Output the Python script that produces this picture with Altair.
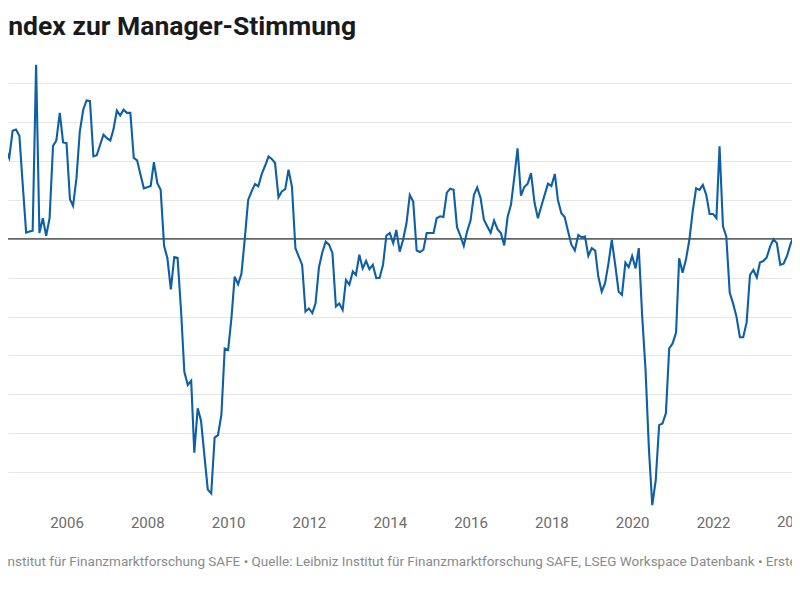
import altair as alt
import pandas as pd

# Monthly index values (starting May 2004)
v2004 = [46, 34, 22.9, 20.8, 27.8, 28.1, 26.5, 14]
v2005 = [1.6, 1.9, 2.1, 44.8, 1.5, 5.3, 0.8, 5.3, 23.9, 25.3, 32.4, 24.8]
v2006 = [24.6, 10.2, 8.5, 15.6, 27.6, 33.2, 35.6, 35.4, 21.2, 21.5, 24.2, 26.8]
v2007 = [25.9, 25.3, 28.1, 33.0, 31.7, 33.2, 32.4, 32.4, 20.8, 20.2, 16.5, 13.0]
v2008 = [13.3, 13.6, 19.7, 14.3, 12.6, -1.8, -5.0, -13.0, -4.7, -4.9, -18.3, -34.2]
v2009 = [-37.6, -36.5, -55.0, -43.6, -46.8, -55.9, -64.5, -65.5, -51.1, -50.5, -45.3, -28.2]
v2010 = [-28.6, -20.0, -9.7, -11.7, -9.0, 0.2, 10.0, 12.2, 14.1, 13.5, 16.7, 18.8]
v2011 = [21.2, 20.5, 19.5, 10.7, 12.2, 12.8, 17.8, 13.3, -2.4, -4.5, -6.7, -18.7]
v2012 = [-17.9, -19.1, -16.6, -7.3, -3.5, -0.7, -1.5, -3.7, -17.4, -16.6, -18.3, -10.6]
v2013 = [-11.8, -8.4, -9.3, -4.1, -7.6, -5.7, -7.8, -6.7, -10.1, -10.0, -6.7, 0.8]
v2014 = [1.5, -1.1, 2.3, -3.3, -0.3, 4.0, 11.3, 9.6, -3.0, -3.4, -2.8, 1.5]
v2015 = [1.5, 1.5, 5.3, 5.8, 5.6, 11.9, 12.9, 12.6, 3.0, 0.8, -1.8, 1.9]
v2016 = [4.7, 11.3, 13.2, 10.5, 4.9, 3.2, 1.6, 4.7, 2.5, 1.5, -1.7, 5.6]
v2017 = [8.8, 16.1, 23.3, 11.1, 13.3, 14.2, 16.9, 9.4, 5.3, 8.3, 11.3, 14.2]
v2018 = [13.6, 16.7, 10.0, 6.6, 5.6, 1.9, -1.5, -3.0, 1.0, 0.4, 0.6, -4.4]
v2019 = [-2.4, -3.0, -9.7, -13.6, -11.4, -6.3, -0.3, -6.7, -13.6, -14.4, -6.1, -7.3]
v2020 = [-4.4, -7.6, -2.4, -20.0, -33.7, -54.3, -68.5, -62.1, -47.9, -47.5, -44.9, -28.2]
v2021 = [-26.9, -24.1, -5.0, -8.7, -5.4, -0.3, 7.0, 13.0, 12.6, 13.9, 11.3, 6.4]
v2022 = [6.4, 5.3, 23.8, 3.2, 0.6, -13.8, -16.6, -20.0, -25.3, -25.3, -21.5, -9.3]
v2023 = [-8.0, -9.9, -6.1, -5.7, -4.8, -2.0, -0.1, -1.1, -6.7, -6.4, -4.4, -1.5]
v2024 = [0.8, 0.4, 15.0, 20.0]

start_month = "2004-05-01"
tick_years = list(range(2004, 2026, 2))
edge_year_label = ["2024"]
grid_values = list(range(-60, 50, 10))

title_text = "Index zur Manager-Stimmung"
footer_text = ("Grafik: Leibniz Institut für Finanzmarktforschung SAFE • Quelle: Leibniz Institut für "
               "Finanzmarktforschung SAFE, LSEG Workspace Datenbank • Erstellt mit Datawrapper")

werte = (v2004 + v2005 + v2006 + v2007 + v2008 + v2009 + v2010 + v2011 + v2012 + v2013 + v2014
         + v2015 + v2016 + v2017 + v2018 + v2019 + v2020 + v2021 + v2022 + v2023 + v2024)
monate = pd.date_range(start_month, periods=len(werte), freq="MS").strftime("%Y-%m-%d")
df = pd.DataFrame({"monat": monate, "wert": werte})

LABEL_COLOR = "#6b6b6b"

x_enc = alt.X(
    "monat:T",
    scale=alt.Scale(domain=[alt.DateTime(year=2004, month=7, date=21),
                            alt.DateTime(year=2023, month=12, date=16)]),
    axis=alt.Axis(values=[alt.DateTime(year=y, month=1, date=1) for y in tick_years],
                  format="%Y", title=None, grid=False, domain=False, ticks=False,
                  labelFlush=False, labelPadding=4, labelFontSize=15, labelColor=LABEL_COLOR,
                  labelFont="Roboto", labelOverlap=False),
)
y_enc = alt.Y(
    "wert:Q",
    scale=alt.Scale(domain=[-70, 46], nice=False, zero=False),
    axis=alt.Axis(values=grid_values, grid=True, gridColor="#e6e6e6", gridWidth=1,
                  labels=False, ticks=False, domain=False, title=None),
)

line = alt.Chart(df).mark_line(color="#0d5fa6", strokeWidth=2.1, clip=True).encode(x=x_enc, y=y_enc)

zero = alt.Chart(pd.DataFrame({"wert": [0]})).mark_rule(color="#333333", strokeWidth=1.2).encode(y="wert:Q")

# year label at the right edge (partly outside the visible area, as in the reference)
edge_df = pd.DataFrame({"monat": [f"{y}-01-01" for y in edge_year_label], "label": edge_year_label})
edge_label = alt.Chart(edge_df).mark_text(
    align="center", baseline="top", font="Roboto", fontSize=15, color=LABEL_COLOR
).encode(x="monat:T", text="label:N", y=alt.value(455))

title = alt.Chart(pd.DataFrame({"t": [title_text]})).mark_text(
    align="left", baseline="alphabetic", font="Roboto", fontSize=26.5, fontWeight="bold", color="#1a1a1a"
).encode(text="t:N", x=alt.value(-7.5), y=alt.value(-25.5))

footer = alt.Chart(pd.DataFrame({"t": [footer_text]})).mark_text(
    align="left", baseline="alphabetic", font="Roboto", fontSize=13.5, color="#8a8a8a"
).encode(text="t:N", x=alt.value(-92), y=alt.value(505.5))

chart = alt.layer(zero, line, edge_label, title, footer).properties(
    width=784, height=451,
    autosize=alt.AutoSizeParams(type="none"),
    padding={"left": 0, "top": 52, "right": 0, "bottom": 72},
).configure_view(stroke=None)

chart.save("out.html", embed_options={"renderer": "svg", "actions": False})
